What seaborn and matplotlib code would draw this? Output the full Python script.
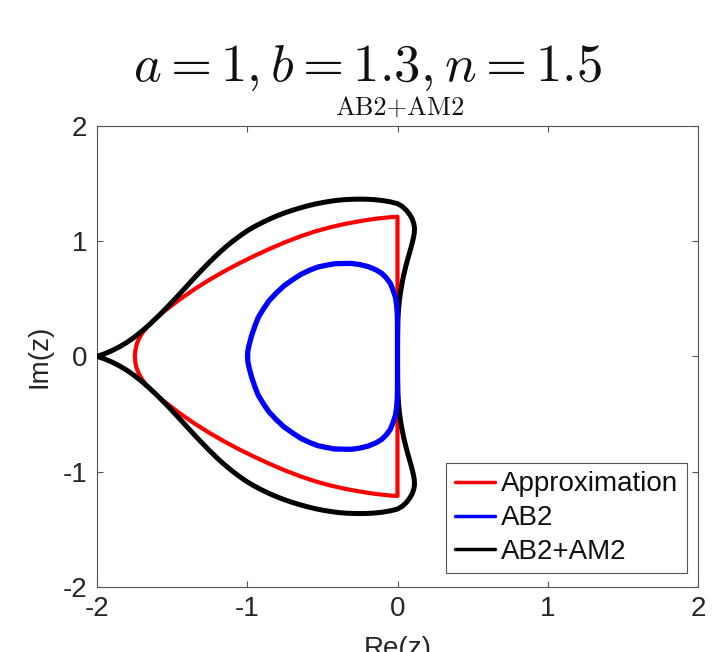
import matplotlib
matplotlib.use("Agg")
import matplotlib.pyplot as plt
import seaborn as sns

# ---------------- data ----------------
# Red "Approximation" curve (closed: tip -> upper arc -> right vertical edge -> lower arc)
approx_re = [-1.748, -1.745, -1.737, -1.722, -1.700, -1.670, -1.632, -1.595, -1.559, -1.450,
             -1.350, -1.250, -1.150, -1.050, -0.950, -0.850, -0.750, -0.650, -0.550, -0.450,
             -0.350, -0.250, -0.150, -0.050, 0.000,
             0.000,
             -0.050, -0.150, -0.250, -0.350, -0.450, -0.550, -0.650, -0.750, -0.850, -0.950,
             -1.050, -1.150, -1.250, -1.350, -1.450, -1.559, -1.595, -1.632, -1.670, -1.700,
             -1.722, -1.737, -1.745, -1.748]
approx_im = [0.000, 0.050, 0.100, 0.150, 0.200, 0.250, 0.300, 0.345, 0.385, 0.494,
             0.584, 0.666, 0.741, 0.810, 0.874, 0.934, 0.990, 1.040, 1.084, 1.120,
             1.150, 1.174, 1.194, 1.208, 1.212,
             -1.212,
             -1.208, -1.194, -1.174, -1.150, -1.120, -1.084, -1.040, -0.990, -0.934, -0.874,
             -0.810, -0.741, -0.666, -0.584, -0.494, -0.385, -0.345, -0.300, -0.250, -0.200,
             -0.150, -0.100, -0.050, 0.000]

# Blue "AB2" curve
ab2_re = [-0.998, -0.996, -0.989, -0.972, -0.950, -0.927, -0.895, -0.855, -0.806, -0.754,
          -0.696, -0.643, -0.585, -0.531, -0.474, -0.419, -0.363, -0.307, -0.252, -0.195,
          -0.142, -0.105, -0.075, -0.048, -0.031, -0.013, -0.005, -0.001, 0.000, 0.000,
          0.000, 0.000, -0.001, -0.005, -0.013, -0.031, -0.048, -0.075, -0.105, -0.142,
          -0.195, -0.252, -0.307, -0.363, -0.419, -0.474, -0.531, -0.585, -0.643, -0.696,
          -0.754, -0.806, -0.855, -0.895, -0.927, -0.950, -0.972, -0.989, -0.996, -0.998]
ab2_im = [0.000, 0.045, 0.092, 0.176, 0.261, 0.337, 0.406, 0.483, 0.551, 0.614,
          0.667, 0.712, 0.748, 0.775, 0.791, 0.804, 0.806, 0.807, 0.797, 0.779,
          0.750, 0.721, 0.682, 0.635, 0.580, 0.510, 0.435, 0.350, 0.261, 0.130,
          -0.130, -0.261, -0.350, -0.435, -0.510, -0.580, -0.635, -0.682, -0.721, -0.750,
          -0.779, -0.797, -0.807, -0.806, -0.804, -0.791, -0.775, -0.748, -0.712, -0.667,
          -0.614, -0.551, -0.483, -0.406, -0.337, -0.261, -0.176, -0.092, -0.045, 0.000]

# Black "AB2+AM2" curve
pc_re = [-2.000, -1.950, -1.900, -1.850, -1.800, -1.750, -1.700, -1.650, -1.600, -1.550,
         -1.500, -1.450, -1.400, -1.350, -1.300, -1.250, -1.200, -1.150, -1.100, -1.050,
         -1.000, -0.950, -0.900, -0.850, -0.800, -0.750, -0.700, -0.650, -0.600, -0.550,
         -0.500, -0.450, -0.400, -0.350, -0.300, -0.250, -0.200, -0.150, -0.100, -0.050,
         0.000, 0.030, 0.058, 0.080, 0.097, 0.108, 0.113, 0.112, 0.107, 0.099,
         0.089, 0.078, 0.066, 0.054, 0.042, 0.031, 0.021, 0.013, 0.007, 0.003,
         0.001, 0.000, 0.000,
         0.000, 0.001, 0.003, 0.007, 0.013, 0.021, 0.031, 0.042, 0.054, 0.066,
         0.078, 0.089, 0.099, 0.107, 0.112, 0.113, 0.108, 0.097, 0.080, 0.058,
         0.030, 0.000, -0.050, -0.100, -0.150, -0.200, -0.250, -0.300, -0.350, -0.400,
         -0.450, -0.500, -0.550, -0.600, -0.650, -0.700, -0.750, -0.800, -0.850, -0.900,
         -0.950, -1.000, -1.050, -1.100, -1.150, -1.200, -1.250, -1.300, -1.350, -1.400,
         -1.450, -1.500, -1.550, -1.600, -1.650, -1.700, -1.750, -1.800, -1.850, -1.900,
         -1.950, -2.000]
pc_im = [0.000, 0.022, 0.050, 0.083, 0.122, 0.168, 0.220, 0.277, 0.339, 0.404,
         0.472, 0.542, 0.613, 0.684, 0.753, 0.820, 0.883, 0.942, 0.996, 1.045,
         1.090, 1.128, 1.162, 1.193, 1.221, 1.246, 1.268, 1.288, 1.306, 1.322,
         1.335, 1.346, 1.355, 1.361, 1.364, 1.365, 1.364, 1.360, 1.353, 1.342,
         1.326, 1.303, 1.270, 1.233, 1.195, 1.155, 1.115, 1.075, 1.035, 0.990,
         0.940, 0.890, 0.835, 0.775, 0.710, 0.640, 0.565, 0.490, 0.410, 0.320,
         0.220, 0.110, 0.000,
         -0.110, -0.220, -0.320, -0.410, -0.490, -0.565, -0.640, -0.710, -0.775, -0.835,
         -0.890, -0.940, -0.990, -1.035, -1.075, -1.115, -1.155, -1.195, -1.233, -1.270,
         -1.303, -1.326, -1.342, -1.353, -1.360, -1.364, -1.365, -1.364, -1.361, -1.355,
         -1.346, -1.335, -1.322, -1.306, -1.288, -1.268, -1.246, -1.221, -1.193, -1.162,
         -1.128, -1.090, -1.045, -0.996, -0.942, -0.883, -0.820, -0.753, -0.684, -0.613,
         -0.542, -0.472, -0.404, -0.339, -0.277, -0.220, -0.168, -0.122, -0.083, -0.050,
         -0.022, 0.000]

series_names = ["Approximation", "AB2", "AB2+AM2"]
xticks = [-2, -1, 0, 1, 2]
yticks = [-2, -1, 0, 1, 2]

# ---------------- style ----------------
sns.set_style("ticks")
plt.rcParams['font.family'] = ['Liberation Sans', 'DejaVu Sans']
plt.rcParams['mathtext.fontset'] = 'cm'
plt.rcParams['axes.unicode_minus'] = False

W, H = 714, 652
fig = plt.figure(figsize=(W / 100, H / 100), dpi=100)
L, R, T, B = 97, 698, 126, 586.7
ax = fig.add_axes([L / W, 1 - B / H, (R - L) / W, (B - T) / H])

sns.lineplot(x=approx_re, y=approx_im, sort=False, estimator=None, color=(1, 0, 0),
             lw=3.0, ax=ax, label=series_names[0], zorder=2)
sns.lineplot(x=pc_re, y=pc_im, sort=False, estimator=None, color='black',
             lw=3.6, ax=ax, label=series_names[2], zorder=3)
sns.lineplot(x=ab2_re, y=ab2_im, sort=False, estimator=None, color=(0, 0, 1),
             lw=3.8, ax=ax, label=series_names[1], zorder=4)
for ln in ax.get_lines():
    ln.set_solid_joinstyle('round')
    ln.set_solid_capstyle('round')

ax.set_xlim(-2, 2)
ax.set_ylim(-2, 2)
ax.set_xticks(xticks)
ax.set_yticks(yticks)
ax.set_xticklabels([str(t) for t in xticks])
ax.set_yticklabels([str(t) for t in yticks])

for s in ax.spines.values():
    s.set_visible(True)
    s.set_color('#555555')
    s.set_linewidth(0.8)
ax.tick_params(direction='in', length=4.5, width=0.8, color='#555555',
               top=True, right=True, labelsize=20, labelcolor='#262626', pad=7)

ax.set_xlabel('Re(z)', fontsize=20, color='#262626')
ax.set_ylabel('Im(z)', fontsize=20, color='#262626')
ax.xaxis.set_label_coords(0.5, (B - 636) / (B - T))
ax.yaxis.set_label_coords((53 - L) / (R - L), 0.5)

# legend
handles, labels = ax.get_legend_handles_labels()
order = [labels.index(n) for n in series_names]
leg = ax.legend([handles[i] for i in order], [labels[i] for i in order],
                loc='lower right', bbox_to_anchor=(0.981, 0.029), fontsize=20,
                frameon=True, fancybox=False, framealpha=1, edgecolor='#555555',
                handlelength=1.45, handletextpad=0.22, labelspacing=0.28,
                borderpad=0.3, borderaxespad=0)
leg.get_frame().set_linewidth(0.8)
for ln in leg.get_lines():
    ln.set_linewidth(2.5)
for t in leg.get_texts():
    t.set_color('#111111')

# titles
fig.text(368 / W, 1 - 81 / H, r'$a = 1, b = 1.3, n = 1.5$', ha='center', va='baseline',
         fontsize=38, color='#111111')
fig.text(400 / W, 1 - 115 / H, 'AB2+AM2', family='cmr10', ha='center', va='baseline',
         fontsize=19, color='#111111')

fig.savefig('out.png', dpi=100)
